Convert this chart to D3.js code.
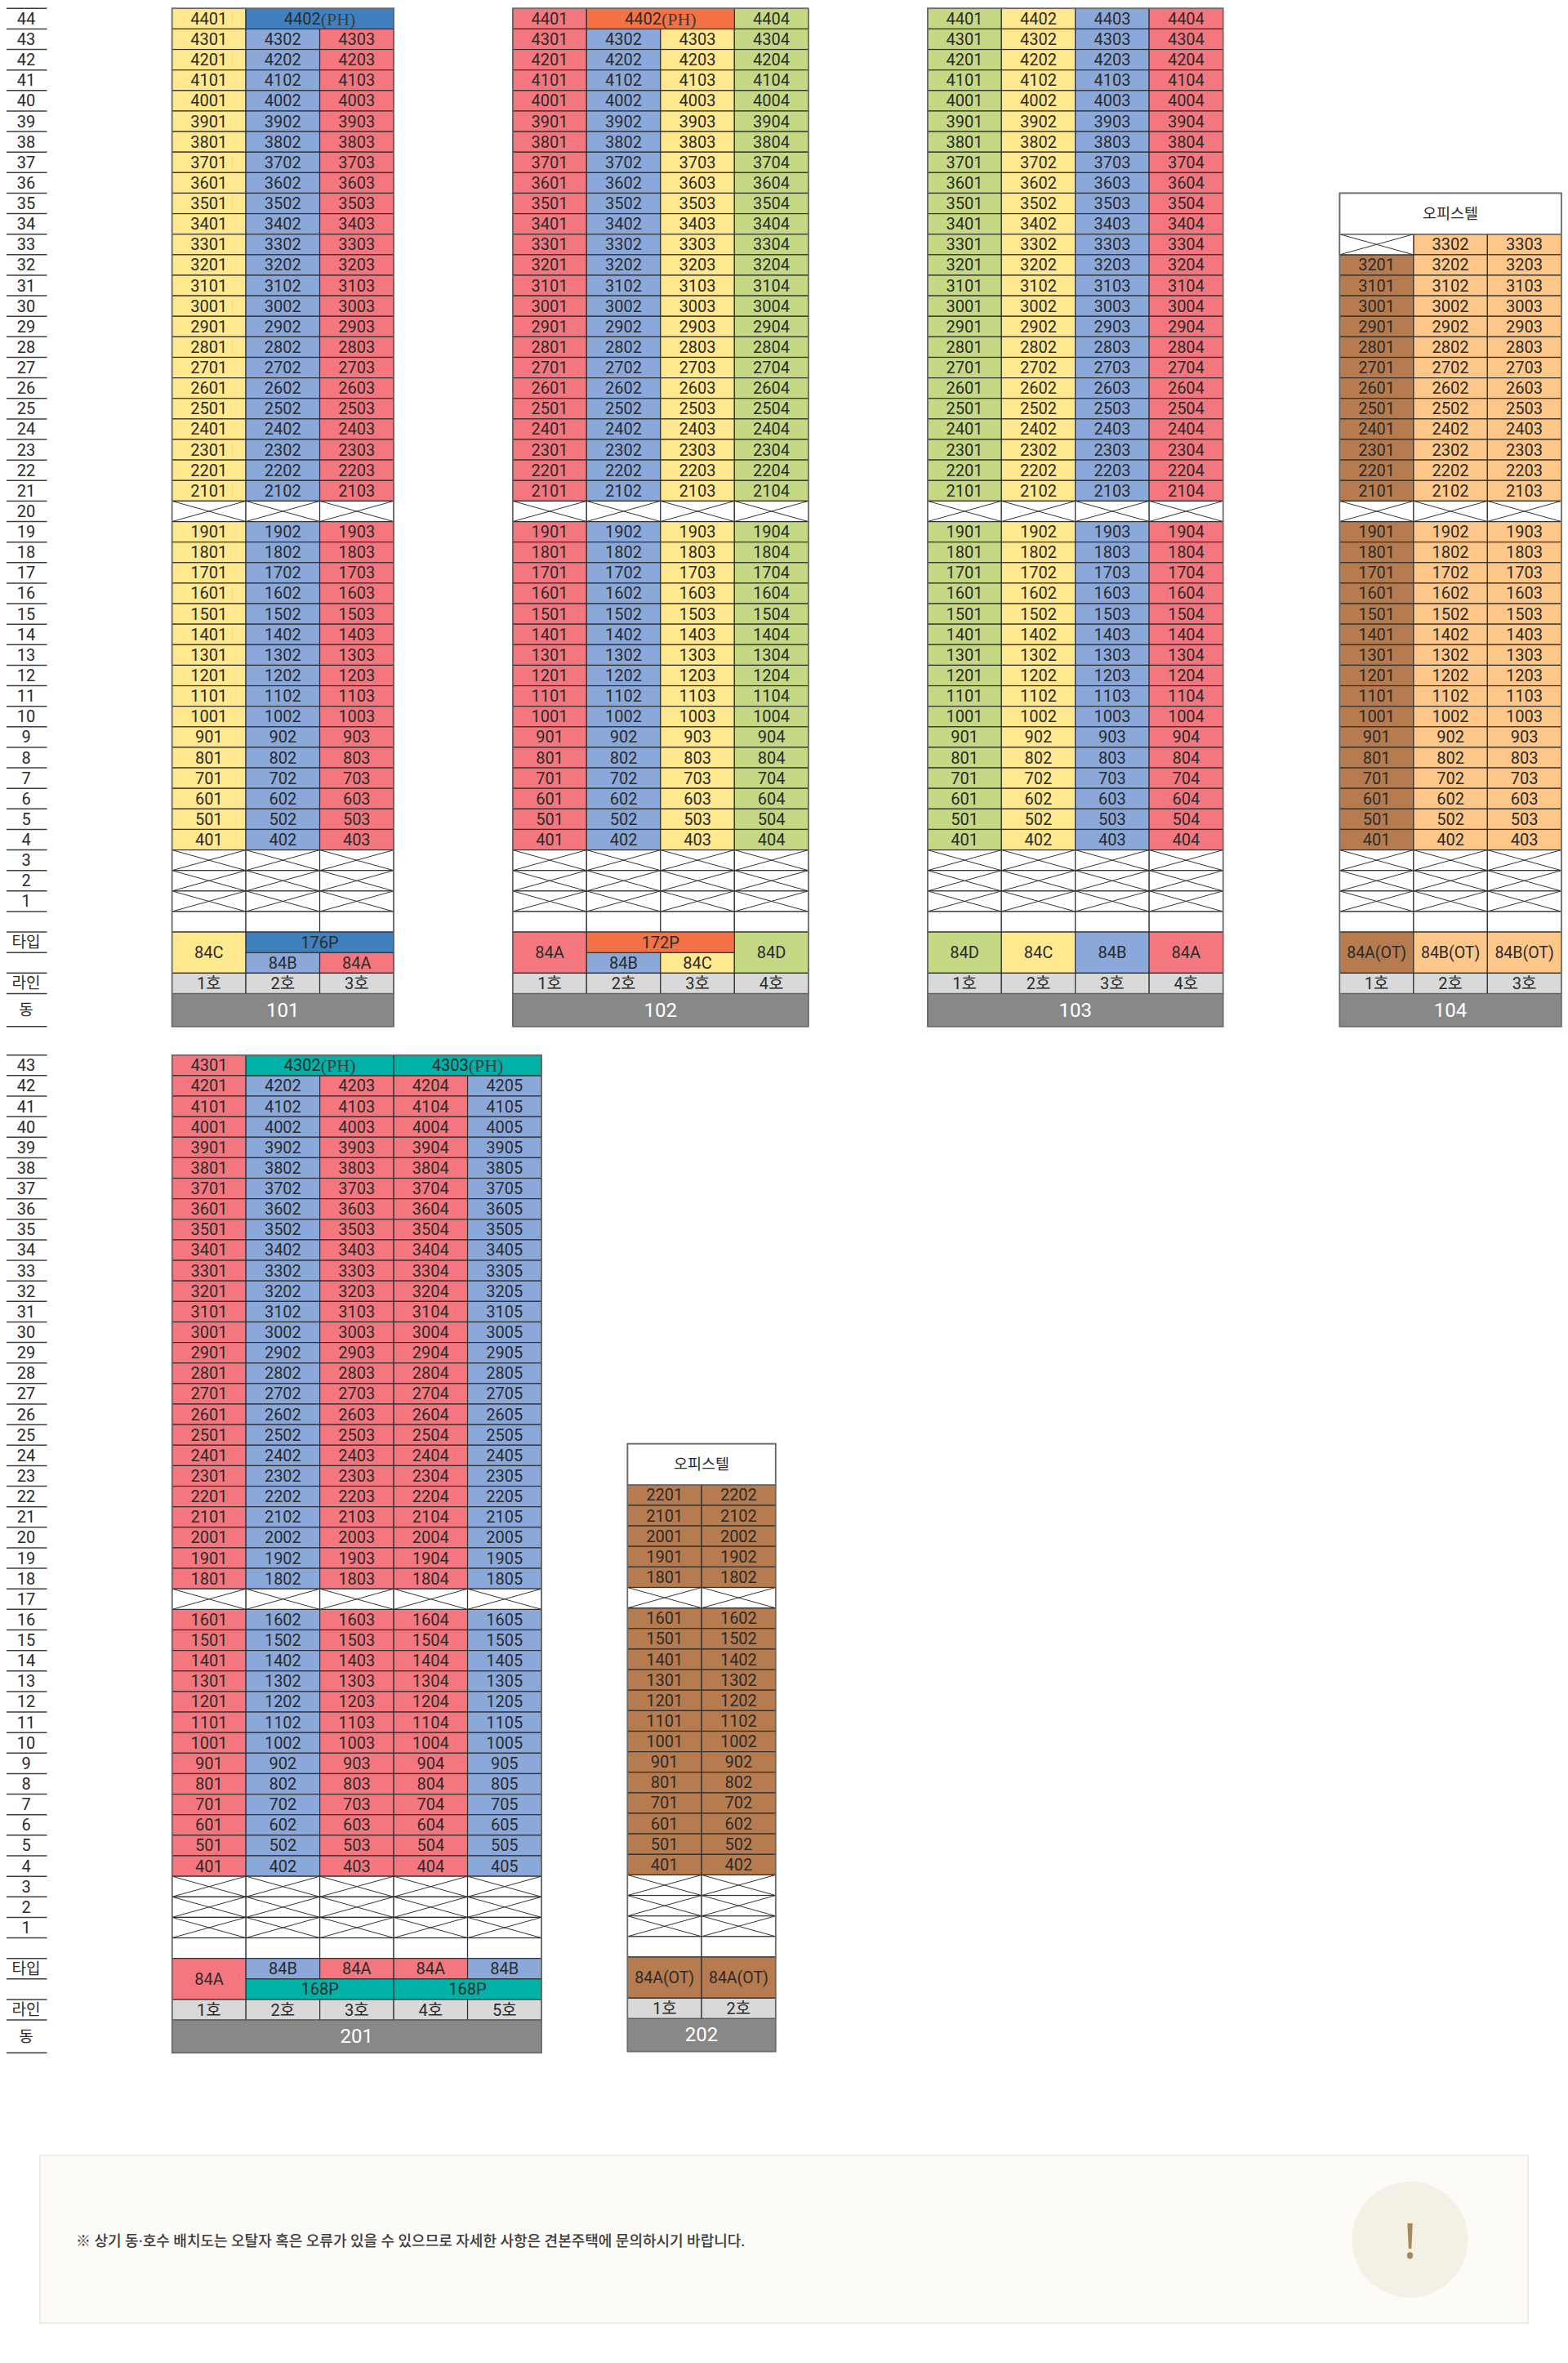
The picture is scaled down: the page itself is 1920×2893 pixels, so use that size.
<!DOCTYPE html>
<html lang="ko"><head><meta charset="utf-8">
<script src="https://cdn.jsdelivr.net/npm/d3@7"></script>
<style>html,body{margin:0;padding:0;background:#fff}svg{display:block}
text{font-family:Roboto,"Noto Sans CJK KR",sans-serif;fill:#2b2b2b}</style>
</head><body><svg id="chart" width="1920" height="2893"></svg>
<script>
// ---- data ----
const floors101=[44,43,42,41,40,39,38,37,36,35,34,33,32,31,30,29,28,27,26,25,24,23,22,21,19,18,17,16,15,14,13,12,11,10,9,8,7,6,5,4];
const floors102=floors101, floors103=floors101;
const floors104=[33,32,31,30,29,28,27,26,25,24,23,22,21,19,18,17,16,15,14,13,12,11,10,9,8,7,6,5,4];
const floors201=[43,42,41,40,39,38,37,36,35,34,33,32,31,30,29,28,27,26,25,24,23,22,21,20,19,18,16,15,14,13,12,11,10,9,8,7,6,5,4];
const floors202=[22,21,20,19,18,16,15,14,13,12,11,10,9,8,7,6,5,4];
const types101=['84C','84B','84A'];
const types102=['84A','84B','84C','84D'];
const types103=['84D','84C','84B','84A'];
const types104=['84A(OT)','84B(OT)','84B(OT)'];
const types201=['84A','84B','84A','84A','84B'];
const types202=['84A(OT)','84A(OT)'];
const rulerTop=[44,43,42,41,40,39,38,37,36,35,34,33,32,31,30,29,28,27,26,25,24,23,22,21,20,19,18,17,16,15,14,13,12,11,10,9,8,7,6,5,4,3,2,1];
const rulerBottom=[43,42,41,40,39,38,37,36,35,34,33,32,31,30,29,28,27,26,25,24,23,22,21,20,19,18,17,16,15,14,13,12,11,10,9,8,7,6,5,4,3,2,1];
const rulerLabels=['타입','라인','동'];
const palette={'84A':'#F4777F','84B':'#8BA8DB','84C':'#FFE88E','84D':'#C5D985','84A(OT)':'#B67B4E','84B(OT)':'#FDC78A'};
const phColors={blue:'#4080BE',orange:'#F47245',teal:'#00B1A7'};
const towerNames=['101','102','103','104','201','202'];
const noteText='※ 상기 동·호수 배치도는 오탈자 혹은 오류가 있을 수 있으므로 자세한 사항은 견본주택에 문의하시기 바랍니다.';

// ---- layout ----
const svg=d3.select('#chart');
const ROW=25.13;
const yTop=d3.scaleLinear().domain([44,-5.6]).range([10.3,1256.7]);
const yBot=d3.scaleLinear().domain([43,-5.6]).range([1291.7,2513.3]);
const yBot2=d3.scaleLinear().domain([43,-5.6]).range([1290,2511.6]);
const LINE='#303030', EDGE='#6a6a6a';

function label(g,x,y,t,size,color){
  return g.append('text').attr('x',x).attr('y',y).attr('text-anchor','middle')
    .attr('dominant-baseline','central').attr('font-size',size).style('fill',color||'#2b2b2b').text(t);
}
function phLabel(g,x,y,num){
  const t=g.append('text').attr('x',x).attr('y',y).attr('text-anchor','middle').attr('dominant-baseline','central');
  t.append('tspan').attr('font-size',20).text(num);
  t.append('tspan').attr('font-size',22).style('font-family','"Liberation Serif",serif').style('fill','#3d3d3d').text('(PH)');
}
function rect(g,x0,x1,y0,y1,fill){
  g.append('rect').attr('x',x0).attr('y',y0).attr('width',x1-x0).attr('height',y1-y0)
    .attr('fill',fill).attr('stroke',LINE).attr('stroke-width',1.2);
}
function cross(g,x0,x1,y0,y1){
  rect(g,x0,x1,y0,y1,'#fff');
  [[x0,y0,x1,y1],[x0,y1,x1,y0]].forEach(d=>g.append('line').attr('x1',d[0]).attr('y1',d[1]).attr('x2',d[2]).attr('y2',d[3])
    .attr('stroke','#333').attr('stroke-width',1));
}
function ruler(floors,y){
  const g=svg.append('g');
  const lines=floors.concat([0,-1,-2,-3,-4,-5.6]);
  lines.forEach(k=>{});
  g.selectAll('line').data([floors[0]+0].concat(floors.map(f=>f-1),[-1,-2,-3,-4,-5.6])).join('line')
    .attr('x1',8).attr('x2',57.5).attr('y1',d=>y(d)).attr('y2',d=>y(d)).attr('stroke','#3c3c3c').attr('stroke-width',1.5);
  floors.forEach(f=>label(g,32,(y(f)+y(f-1))/2,f,20));
  label(g,32,(y(-1)+y(-2))/2,rulerLabels[0],19);
  label(g,32,(y(-3)+y(-4))/2,rulerLabels[1],19);
  label(g,32,(y(-4)+y(-5.6))/2,rulerLabels[2],19);
}
/* spec: name, x-range, floors, types, y scale, spans, voids */
function tower(s){
  const lines=d3.range(1,s.types.length+1);
  const x=d3.scaleBand().domain(lines).range(s.xr);
  const y=s.y, g=svg.append('g');
  const xl=l=>x(l), xr=l=>x(l)+x.bandwidth();
  const color=s.colors||(l=>palette[s.types[l-1]]);
  // rooms
  s.floors.forEach(f=>lines.forEach(l=>{
    if(s.ph&&s.ph.some(p=>p.floor===f&&p.lines.includes(l)))return;
    rect(g,xl(l),xr(l),y(f),y(f-1),color(l));
    label(g,x(l)+x.bandwidth()/2,(y(f)+y(f-1))/2,`${f}${String(l).padStart(2,'0')}`,20);
  }));
  // penthouse merged cells
  (s.ph||[]).forEach(p=>{
    const a=p.lines[0],b=p.lines[p.lines.length-1];
    rect(g,xl(a),xr(b),y(p.floor),y(p.floor-1),p.fill);
    phLabel(g,(xl(a)+xr(b))/2,(y(p.floor)+y(p.floor-1))/2,p.num);
  });
  // void floors
  s.voids.forEach(v=>lines.forEach(l=>cross(g,xl(l),xr(l),y(v),y(v-1))));
  (s.voidCells||[]).forEach(v=>cross(g,xl(v.line),xr(v.line),y(v.floor),y(v.floor-1)));
  // blank row
  lines.forEach(l=>rect(g,xl(l),xr(l),y(0),y(-1),'#fff'));
  // type rows
  lines.forEach(l=>{
    const sp=s.split&&s.split.lines.includes(l);
    const c=palette[s.types[l-1]];
    if(sp){
      const [a0,a1]=s.split.top?[-1,-2]:[-2,-3];
      const [b0,b1]=s.split.top?[-2,-3]:[-1,-2];
      rect(g,xl(l),xr(l),y(b0),y(b1),c);
      label(g,x(l)+x.bandwidth()/2,(y(b0)+y(b1))/2,s.types[l-1],20);
    }else{
      rect(g,xl(l),xr(l),y(-1),y(-3),c);
      label(g,x(l)+x.bandwidth()/2,y(-2),s.types[l-1],s.types[l-1].length>3?19.5:20);
    }
  });
  if(s.split) s.split.groups.forEach(gr=>{
    const [a0,a1]=s.split.top?[-1,-2]:[-2,-3];
    rect(g,xl(gr.lines[0]),xr(gr.lines[1]),y(a0),y(a1),gr.fill);
    label(g,(xl(gr.lines[0])+xr(gr.lines[1]))/2,(y(a0)+y(a1))/2,gr.label,20);
  });
  // line row
  lines.forEach(l=>{
    rect(g,xl(l),xr(l),y(-3),y(-4),'#D9D9D9');
    label(g,x(l)+x.bandwidth()/2,(y(-3)+y(-4))/2,l+'호',20);
  });
  // building row
  g.append('rect').attr('x',s.xr[0]).attr('y',y(-4)).attr('width',s.xr[1]-s.xr[0]).attr('height',y(-5.6)-y(-4))
    .attr('fill','#888888').attr('stroke','#5c5c5c').attr('stroke-width',1.2);
  label(g,(s.xr[0]+s.xr[1])/2,(y(-4)+y(-5.6))/2,s.name,24,'#fff');
  // office header
  if(s.office!==undefined){
    g.append('rect').attr('x',s.xr[0]).attr('y',y(s.office)).attr('width',s.xr[1]-s.xr[0]).attr('height',y(s.office-2)-y(s.office))
      .attr('fill','#fff').attr('stroke',EDGE).attr('stroke-width',1.5);
    label(g,(s.xr[0]+s.xr[1])/2,y(s.office-1),'오피스텔',18.5);
  }
  // outer edge
  const top=s.office!==undefined?s.office:s.floors[0];
  g.append('rect').attr('x',s.xr[0]).attr('y',y(top)).attr('width',s.xr[1]-s.xr[0]).attr('height',y(-5.6)-y(top))
    .attr('fill','none').attr('stroke',EDGE).attr('stroke-width',1.6);
}
ruler(rulerTop,yTop); ruler(rulerBottom,yBot);

tower({name:towerNames[0],xr:[210.6,482],floors:floors101,types:types101,y:yTop,voids:[20,3,2,1],
  ph:[{floor:44,lines:[2,3],fill:phColors.blue,num:'4402'}],
  split:{top:true,lines:[2,3],groups:[{lines:[2,3],fill:phColors.blue,label:'176P'}]}});
tower({name:towerNames[1],xr:[627.8,989.8],floors:floors102,types:types102,y:yTop,voids:[20,3,2,1],
  ph:[{floor:44,lines:[2,3],fill:phColors.orange,num:'4402'}],
  split:{top:true,lines:[2,3],groups:[{lines:[2,3],fill:phColors.orange,label:'172P'}]}});
tower({name:towerNames[2],xr:[1135.8,1497.6],floors:floors103,types:types103,y:yTop,voids:[20,3,2,1]});
tower({name:towerNames[3],xr:[1640.4,1911.8],floors:floors104,types:types104,y:yTop,voids:[20,3,2,1],
  office:35,voidCells:[{floor:33,line:1}]});
tower({name:towerNames[4],xr:[210.7,663],floors:floors201,types:types201,y:yBot,voids:[17,3,2,1],
  ph:[{floor:43,lines:[2,3],fill:phColors.teal,num:'4302'},{floor:43,lines:[4,5],fill:phColors.teal,num:'4303'}],
  split:{top:false,lines:[2,3,4,5],groups:[{lines:[2,3],fill:phColors.teal,label:'168P'},{lines:[4,5],fill:phColors.teal,label:'168P'}]}});
tower({name:towerNames[5],xr:[768.4,949.7],floors:floors202,types:types202,y:yBot2,voids:[17,3,2,1],office:24});

// footer note
const foot=svg.append('g');
foot.append('rect').attr('x',49).attr('y',2639).attr('width',1822).attr('height',205)
  .attr('fill','#FDFBF7').attr('stroke','#EFECE4').attr('stroke-width',2);
foot.append('circle').attr('cx',1726.5).attr('cy',2742).attr('r',71).attr('fill','#F3F0E6');
foot.append('text').attr('x',1726.5).attr('y',2742).attr('text-anchor','middle').attr('dominant-baseline','central')
  .attr('font-size',60).style('fill','#A8895C').style('font-family','"Noto Sans"').text('!');
foot.append('text').attr('x',93).attr('y',2743).attr('dominant-baseline','central').attr('font-size',18)
  .attr('font-weight',500).style('fill','#3a3a3a').text(noteText);
</script></body></html>
